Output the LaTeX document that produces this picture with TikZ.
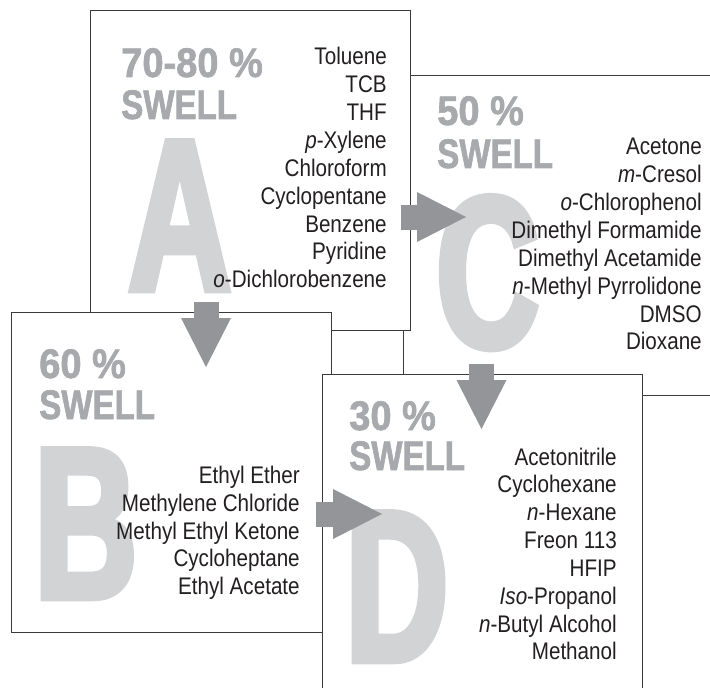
\documentclass[tikz,border=0pt]{standalone}
\usepackage{fontspec}
\setmainfont{Liberation Sans}[FakeStretch=0.86]
\newfontfamily\swellfont{Liberation Sans}[UprightFont=* Bold, FakeStretch=0.80, FakeBold=1.5]
\newfontfamily\pctfont{Liberation Sans}[UprightFont=* Bold, FakeStretch=0.92, FakeBold=1.5]
\newfontfamily\letterfont{Liberation Sans}[UprightFont=* Bold, FakeStretch=0.66, FakeBold=3]
\usetikzlibrary{arrows.meta}

\definecolor{arrowgray}{HTML}{939598}
\definecolor{swellgray}{HTML}{A7A9AC}
\definecolor{lettergray}{HTML}{D1D3D4}
\definecolor{framegray}{HTML}{3A3A3A}
\definecolor{inkblack}{HTML}{231F20}

\tikzset{
  panel/.style={draw=framegray, line width=0.75pt, fill=white, minimum width=240pt,
    minimum height=240pt, inner sep=0pt, anchor=north west},
  bigletter/.style={inner sep=0pt, anchor=base west, text=lettergray,
    font=\letterfont\fontsize{162}{162}\selectfont},
  swell/.style={inner sep=0pt, anchor=base west, text=swellgray,
    font=\swellfont\fontsize{31}{31}\selectfont},
  pct/.style={swell, font=\pctfont\fontsize{31}{31}\selectfont},
  solvent/.style={inner sep=0pt, anchor=base east, text=inkblack,
    font=\fontsize{18}{20}\selectfont},
  flow/.style={draw=arrowgray, line width=18.75pt,
    -{Triangle[length=36.75pt, width=37.5pt, line width=0pt]}},
}

\begin{document}
\begin{tikzpicture}[x=0.75pt,y=-0.75pt]
        \useasboundingbox (0,0) rectangle (710,688);
        \clip (0,0) rectangle (710,688);

        % C: 50 % swell
        \node[panel] (boxC) at (403,75) {};
        \node[bigletter] (letC) at (436,347) {C};
        \node[pct] (pctC) at (437,125) {50 \%};
        \node[swell] (swC) at (437,168) {SWELL};
        \foreach \solv [count=\i from 0] in {Acetone, \textit{m}-Cresol, \textit{o}-Chlorophenol,
            Dimethyl Formamide, Dimethyl Acetamide, \textit{n}-Methyl Pyrrolidone, DMSO, Dioxane} {
          \node[solvent] (sc\i) at (702,155+27.85*\i) {\solv};
        }

        % A: 70-80 % swell
        \node[panel] (boxA) at (89.5,10) {};
        \node[bigletter] (letA) at (128,290) {A};
        \node[pct] (pctA) at (121,77) {70-80 \%};
        \node[swell] (swA) at (121,119) {SWELL};
        \foreach \solv [count=\i from 0] in {Toluene, TCB, THF, \textit{p}-Xylene, Chloroform,
            Cyclopentane, Benzene, Pyridine, \textit{o}-Dichlorobenzene} {
          \node[solvent] (sa\i) at (387,65+27.85*\i) {\solv};
        }

        % B: 60 % swell
        \node[panel] (boxB) at (11,312) {};
        \node[bigletter] (letB) at (34,598) {B};
        \node[pct] (pctB) at (39,378) {60 \%};
        \node[swell] (swB) at (39,419) {SWELL};
        \foreach \solv [count=\i from 0] in {Ethyl Ether, Methylene Chloride, Methyl Ethyl Ketone,
            Cycloheptane, Ethyl Acetate} {
          \node[solvent] (sb\i) at (300,483.3+27.85*\i) {\solv};
        }

        % D: 30 % swell
        \node[panel] (boxD) at (322,374) {};
        \node[bigletter] (letD) at (345,661) {D};
        \node[pct] (pctD) at (349,430) {30 \%};
        \node[swell] (swD) at (349,470) {SWELL};
        \foreach \solv [count=\i from 0] in {Acetonitrile, Cyclohexane, \textit{n}-Hexane, Freon 113,
            HFIP, \textit{Iso}-Propanol, \textit{n}-Butyl Alcohol, Methanol} {
          \node[solvent] (sd\i) at (617,465+27.85*\i) {\solv};
        }

        % arrows between the panels
        \coordinate (ac0) at (401,217);
        \coordinate (ac1) at (466,217);
        \coordinate (ab0) at (206,302);
        \coordinate (ab1) at (206,367);
        \coordinate (cd0) at (481.5,364);
        \coordinate (cd1) at (481.5,429);
        \coordinate (bd0) at (316,514);
        \coordinate (bd1) at (382,514);
        \draw[flow] (ac0) -- (ac1);
        \draw[flow] (ab0) -- (ab1);
        \draw[flow] (cd0) -- (cd1);
        \draw[flow] (bd0) -- (bd1);
      \end{tikzpicture}
\end{document}
